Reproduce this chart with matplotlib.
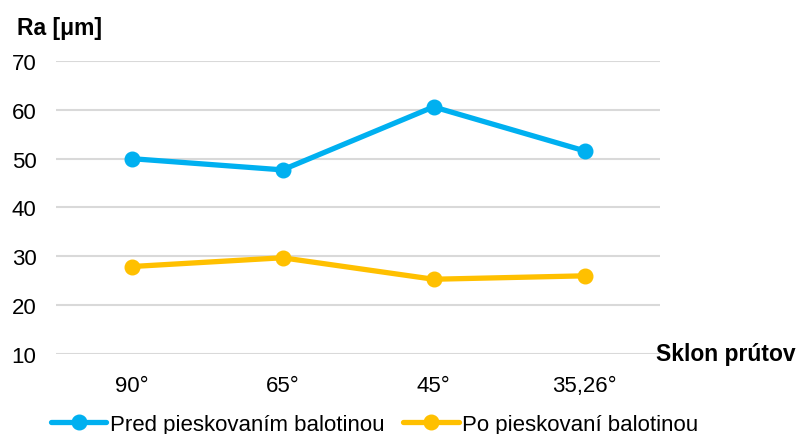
import matplotlib.pyplot as plt

categories = ["90°", "65°", "45°", "35,26°"]
pred = [50.0, 47.7, 60.6, 51.6]
po = [27.9, 29.7, 25.3, 26.0]
yticks = [10, 20, 30, 40, 50, 60, 70]

sans = ["Liberation Sans", "DejaVu Sans"]

fig = plt.figure(figsize=(8, 4.35), dpi=100)
ax = fig.add_axes([0.07, 0.184, 0.755, 0.6735])

x = range(len(categories))
ax.plot(x, pred, color="#00B0F0", lw=3.8, marker="o", ms=10.5,
        label="Pred pieskovaním balotinou", solid_capstyle="round")
ax.plot(x, po, color="#FFC000", lw=3.8, marker="o", ms=10.5,
        label="Po pieskovaní balotinou", solid_capstyle="round")

ax.set_xlim(-0.5, 3.5)
ax.set_ylim(10, 70)
ax.set_yticks(yticks)
ax.set_xticks(list(x), categories)
ax.grid(axis="y", color="#D9D9D9", lw=1.5)
ax.set_axisbelow(True)
for s in ax.spines.values():
    s.set_visible(False)
ax.tick_params(length=0)
ax.tick_params(axis="x", labelsize=16, pad=15)
ax.tick_params(axis="y", labelsize=16, pad=14)
for t in ax.get_xticklabels() + ax.get_yticklabels():
    t.set_family(sans)

fig.text(17 / 800, 0.935, "Ra [μm]", fontsize=16.5, fontweight="bold",
         family=sans, ha="left", va="center")
fig.text(0.994, 1 - 355 / 435, "Sklon prútov", fontsize=16.5, fontweight="bold",
         family=sans, ha="right", va="center")

leg = fig.legend(loc="center", bbox_to_anchor=(0.468, 0.022), ncol=2,
                 frameon=False, prop={"family": sans, "size": 16},
                 handlelength=2.5, columnspacing=0.85, handletextpad=0.15)

fig.savefig("out.png")
